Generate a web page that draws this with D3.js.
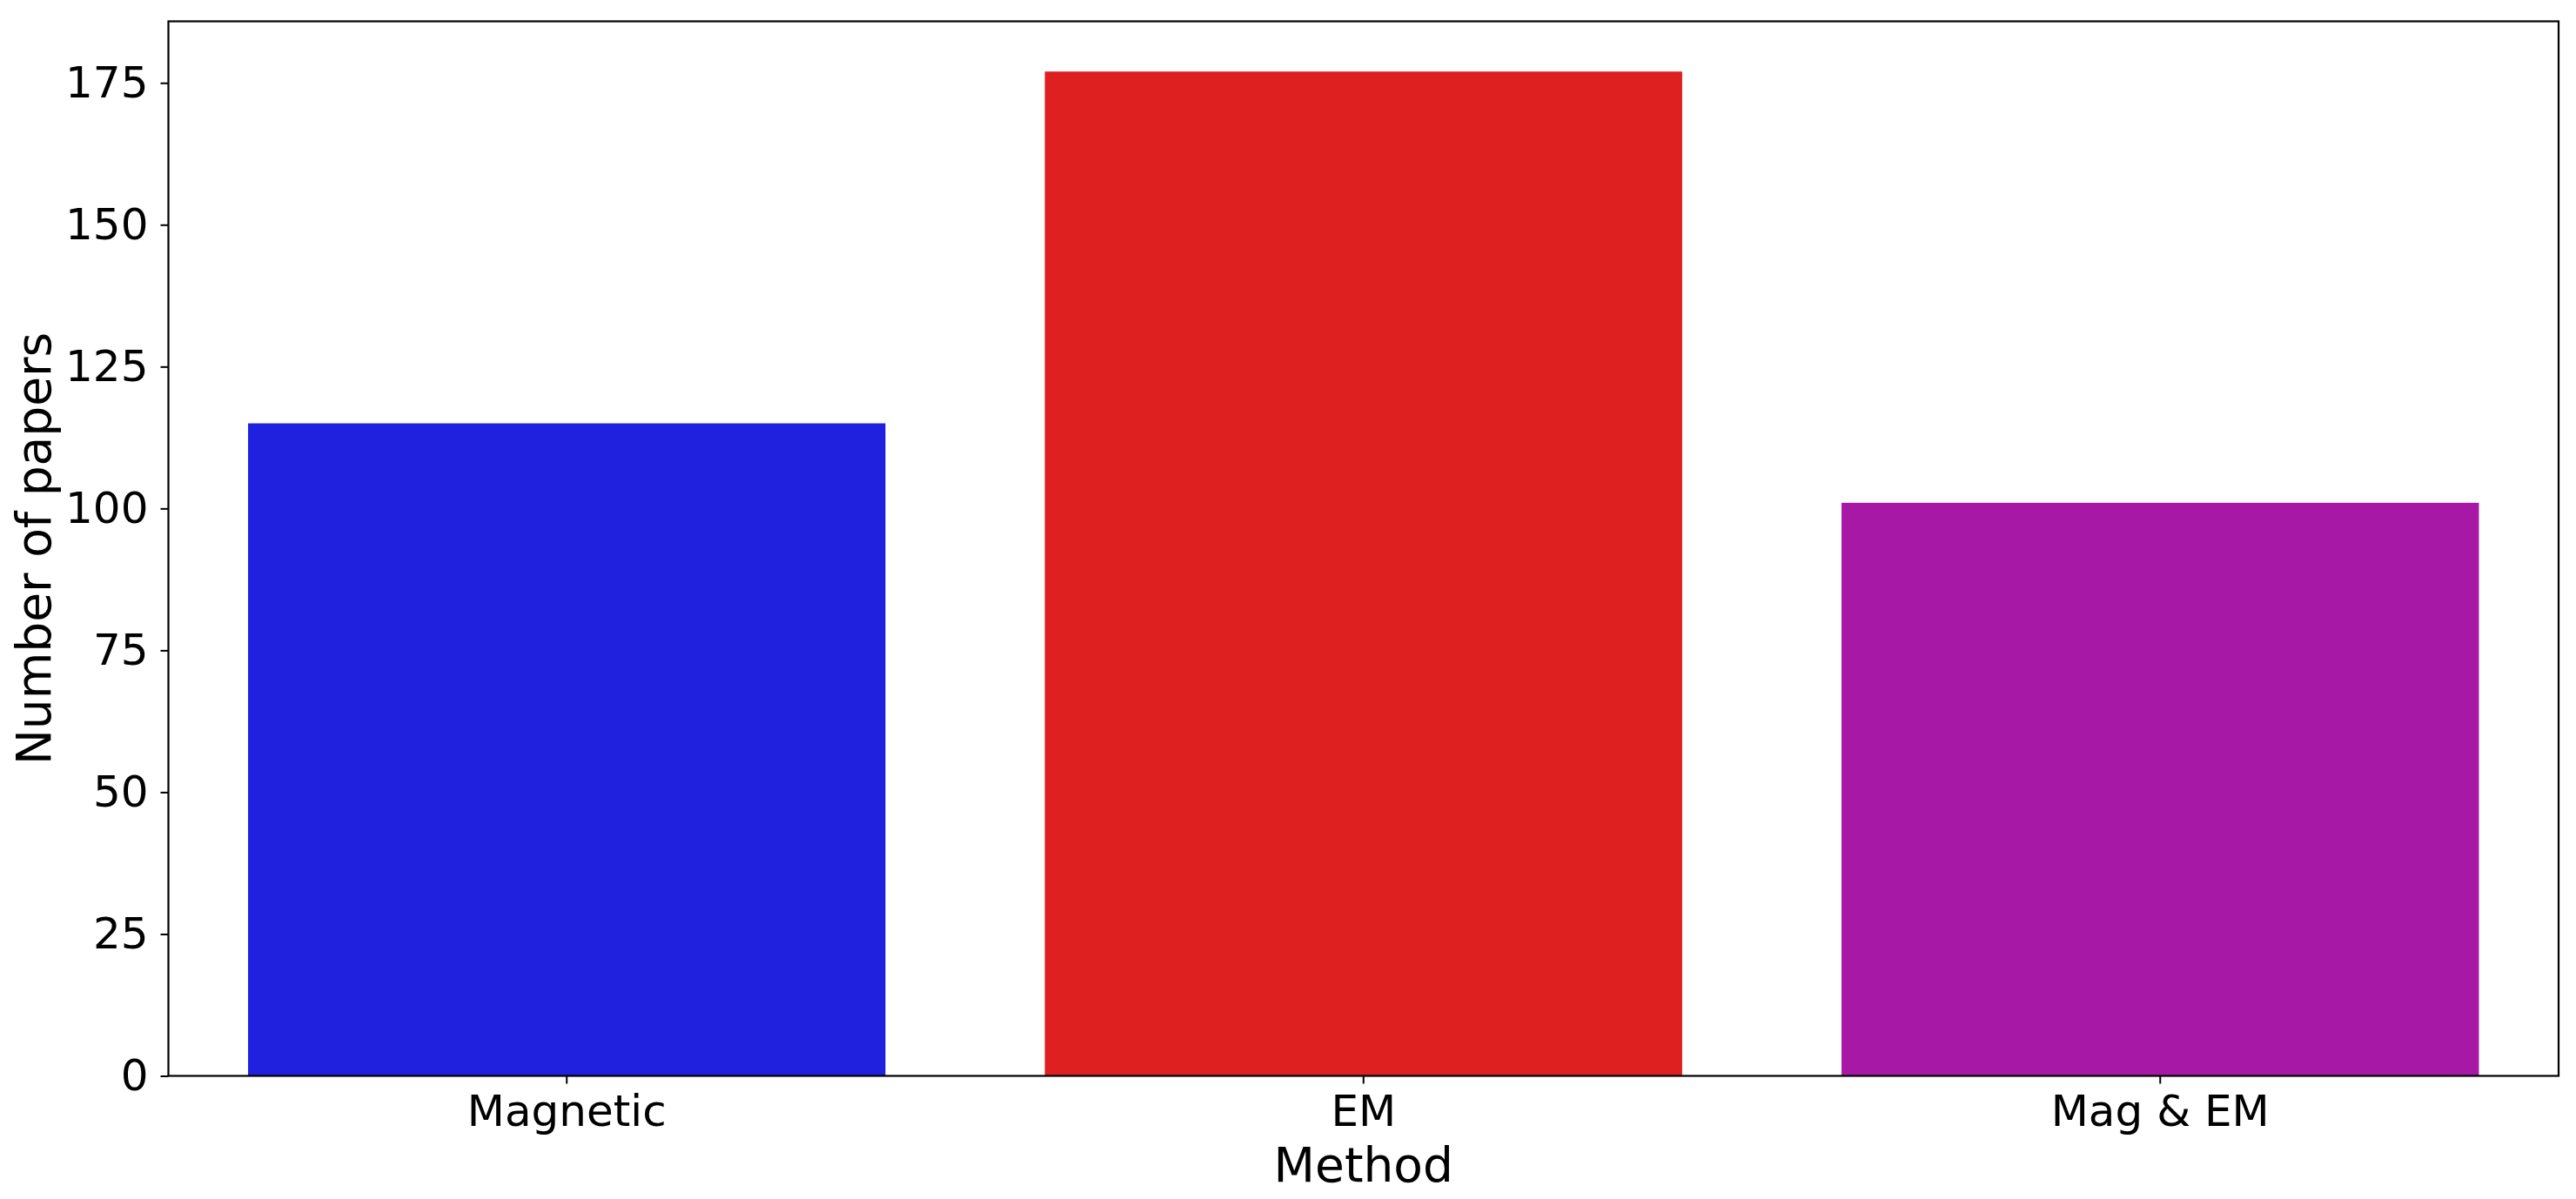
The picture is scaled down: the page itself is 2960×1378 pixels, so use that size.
<!DOCTYPE html>
<html>
<head>
<meta charset="utf-8">
<script src="https://cdn.jsdelivr.net/npm/d3@7"></script>
<style>
  html, body { margin: 0; padding: 0; background: #fff; }
  svg { display: block; }
  text { font-family: "DejaVu Sans", sans-serif; fill: #000; }
</style>
</head>
<body>
<script>
const categories = ["Magnetic", "EM", "Mag & EM"];
const values = [115, 177, 101];
const barColors = ["#2020DF", "#DF2020", "#A718A7"];
const yTicks = [0, 25, 50, 75, 100, 125, 150, 175];
const xLabel = "Method";
const yLabel = "Number of papers";

const W = 2960, H = 1378;
const margin = { left: 193.5, right: 20, top: 24.5, bottom: 141.5 };
const iw = W - margin.left - margin.right;
const ih = H - margin.top - margin.bottom;

const svg = d3.select("body").append("svg").attr("width", W).attr("height", H);
const g = svg.append("g").attr("transform", `translate(${margin.left},${margin.top})`);

const x = d3.scaleBand().domain(categories).range([0, iw]).paddingInner(0.2).paddingOuter(0.1);
const yMax = d3.max(values) * 1.05;
const y = d3.scaleLinear().domain([0, yMax]).range([ih, 0]);

g.selectAll("rect.bar").data(categories).enter().append("rect")
  .attr("class", "bar")
  .attr("x", d => x(d))
  .attr("width", x.bandwidth())
  .attr("y", (d, i) => y(values[i]))
  .attr("height", (d, i) => ih - y(values[i]))
  .attr("fill", (d, i) => barColors[i]);

// Y axis
const yAxis = d3.axisLeft(y).tickValues(yTicks).tickSize(9).tickSizeOuter(0).tickPadding(14);
const ya = g.append("g").call(yAxis);
ya.select(".domain").remove();
ya.selectAll(".tick line").attr("stroke", "#000").attr("stroke-width", 2);
ya.selectAll(".tick text").attr("font-size", 50).attr("font-family", "DejaVu Sans");

// X axis
const xAxis = d3.axisBottom(x).tickSize(9).tickSizeOuter(0).tickPadding(13);
const xa = g.append("g").attr("transform", `translate(0,${ih})`).call(xAxis);
xa.select(".domain").remove();
xa.selectAll(".tick line").attr("stroke", "#000").attr("stroke-width", 2);
xa.selectAll(".tick text").attr("font-size", 50).attr("font-family", "DejaVu Sans");

// Frame
g.append("rect").attr("x", 0).attr("y", 0).attr("width", iw).attr("height", ih)
  .attr("fill", "none").attr("stroke", "#000").attr("stroke-width", 2.2);

// Labels
svg.append("text")
  .attr("x", margin.left + iw / 2).attr("y", 1358)
  .attr("text-anchor", "middle").attr("font-size", 55)
  .text(xLabel);

svg.append("text")
  .attr("transform", `translate(58,${margin.top + ih / 2}) rotate(-90)`)
  .attr("text-anchor", "middle").attr("font-size", 55)
  .text(yLabel);
</script>
</body>
</html>
